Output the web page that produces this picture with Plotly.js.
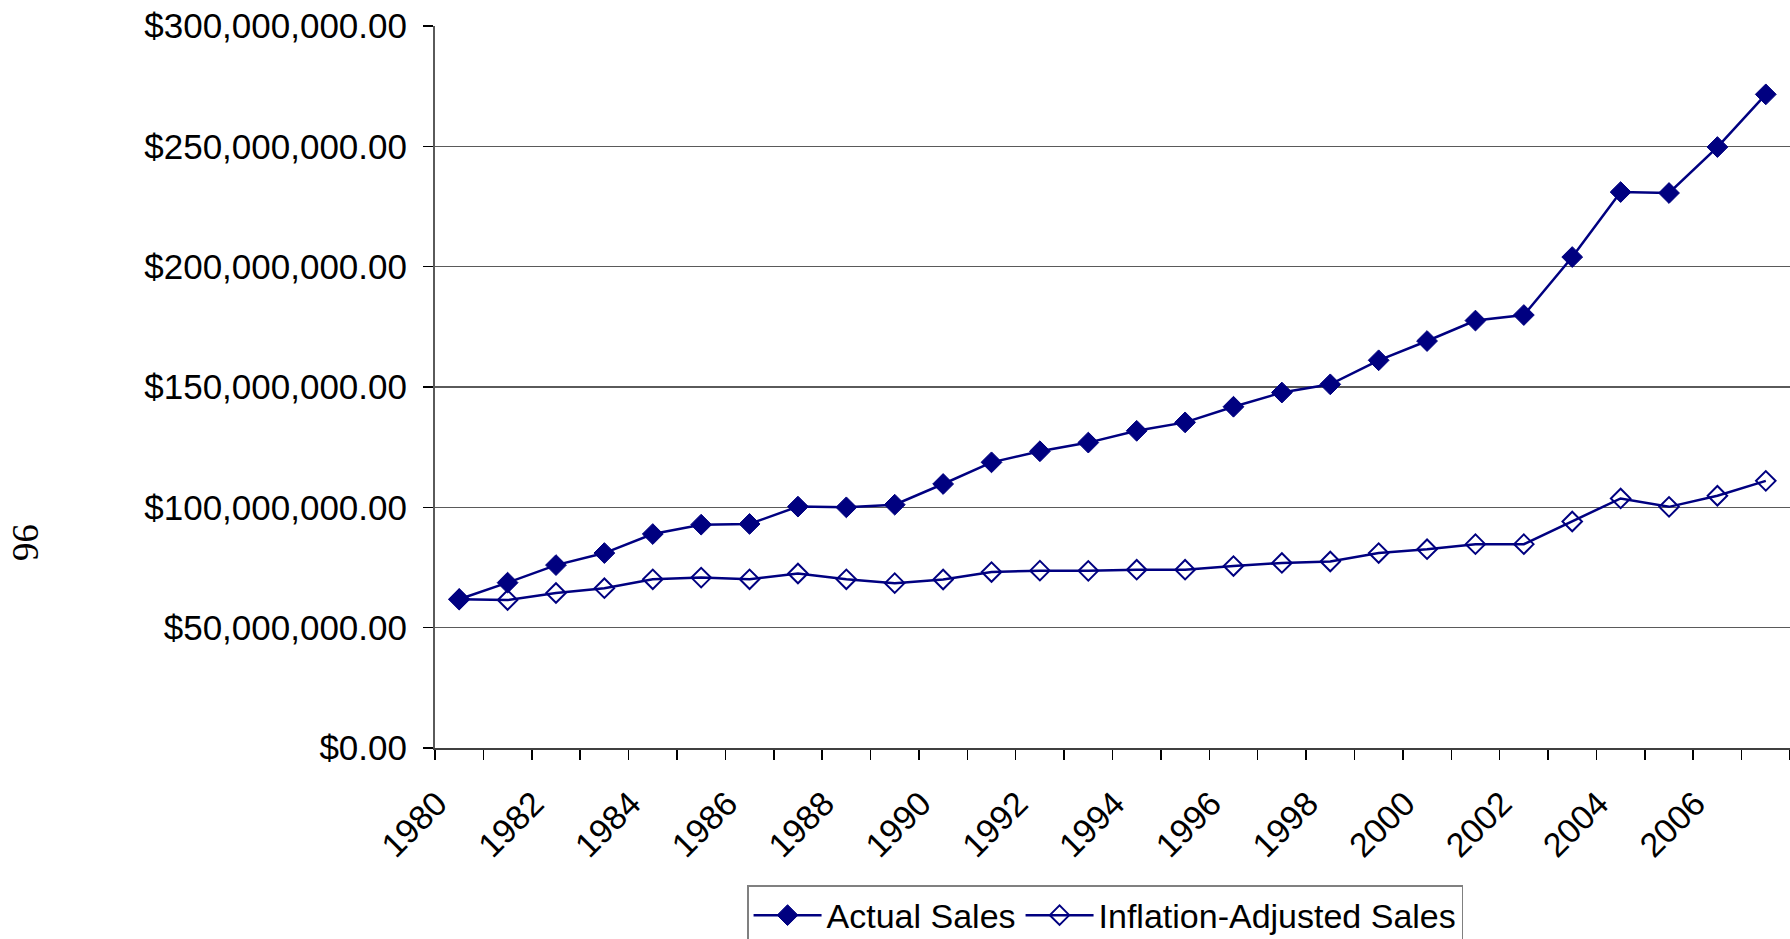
<!DOCTYPE html>
<html>
<head>
<meta charset="utf-8">
<script src="https://cdn.plot.ly/plotly-3.0.1.min.js"></script>
<style>
html,body{margin:0;padding:0;background:#fff;}
#chart{width:1790px;height:939px;}
</style>
</head>
<body>
<div id="chart"></div>
<script>
// Data
var years = [1980,1981,1982,1983,1984,1985,1986,1987,1988,1989,1990,1991,1992,1993,
             1994,1995,1996,1997,1998,1999,2000,2001,2002,2003,2004,2005,2006,2007];
var actualSales = [61.8e6,68.7e6,76.0e6,81.0e6,88.9e6,92.8e6,93.1e6,100.3e6,100.0e6,101.1e6,
                   109.7e6,118.7e6,123.3e6,126.9e6,131.8e6,135.3e6,141.8e6,147.7e6,151.1e6,161.1e6,
                   169.1e6,177.6e6,179.9e6,204.0e6,231.0e6,230.6e6,249.7e6,271.6e6];
var inflationAdjusted = [61.8e6,61.5e6,64.4e6,66.4e6,70.1e6,70.8e6,70.1e6,72.5e6,70.1e6,68.5e6,
                         70.0e6,73.1e6,73.7e6,73.6e6,74.1e6,74.1e6,75.6e6,76.9e6,77.5e6,81.0e6,
                         82.6e6,84.7e6,84.7e6,94.1e6,103.7e6,100.2e6,104.8e6,111.0e6];
var tickYears = [1980,1982,1984,1986,1988,1990,1992,1994,1996,1998,2000,2002,2004,2006];
var tickLabels = tickYears.map(String);
var seriesNames = ["Actual Sales", "Inflation-Adjusted Sales"];
var pageNumber = "96";

var boundaries = years.map(function(y){return y - 0.5;}).concat([years[years.length-1] + 0.5]);

var navy = "#000080";
var fontFam = "Liberation Sans, Arial, sans-serif";

var traces = [
  {
    x: years, y: actualSales, name: seriesNames[0], type: "scatter", mode: "lines+markers",
    line: {color: navy, width: 2.5},
    marker: {symbol: "diamond", size: 16, color: navy, line: {color: navy, width: 1}},
    cliponaxis: false
  },
  {
    x: years, y: inflationAdjusted, name: seriesNames[1], type: "scatter", mode: "lines+markers",
    line: {color: navy, width: 2.5},
    marker: {symbol: "diamond-open", size: 15, color: navy, line: {color: navy, width: 2}},
    cliponaxis: false
  }
];

var layout = {
  width: 1790, height: 939,
  margin: {l: 435, r: 0, t: 26, b: 191, pad: 0, autoexpand: false},
  paper_bgcolor: "#ffffff", plot_bgcolor: "#ffffff",
  font: {family: fontFam, size: 35, color: "#000"},
  showlegend: true,
  legend: {
    orientation: "h", x: 0.2303, xanchor: "left", y: -0.1898, yanchor: "top",
    bordercolor: "#808080", borderwidth: 1.5, bgcolor: "#fff",
    font: {family: fontFam, size: 34, color: "#000"},
    itemwidth: 68, traceorder: "normal"
  },
  xaxis: {
    type: "linear", range: [boundaries[0], boundaries[boundaries.length-1]],
    automargin: false,
    tickmode: "array", tickvals: tickYears, ticktext: tickLabels, tickangle: -45,
    ticks: "outside", ticklen: 4, tickcolor: "rgba(0,0,0,0)",
    ticklabelshift: -22, ticklabelstandoff: 16,
    showgrid: false, zeroline: false,
    showline: true, linecolor: "#404040", linewidth: 2,
    tickfont: {family: fontFam, size: 34, color: "#000"},
    minor: {tickmode: "array", tickvals: boundaries, ticks: "outside", ticklen: 10, tickwidth: 1.5, tickcolor: "#000", showgrid: false}
  },
  yaxis: {
    range: [0, 300e6], tickmode: "linear", tick0: 0, dtick: 50e6,
    automargin: false,
    tickformat: "$,.2f",
    ticks: "outside", ticklen: 10, tickwidth: 1.5, tickcolor: "#000",
    ticklabelstandoff: 9,
    showgrid: true, gridcolor: "#5a5a5a", gridwidth: 1.5,
    zeroline: false,
    showline: true, linecolor: "#5a5a5a", linewidth: 2,
    tickfont: {family: fontFam, size: 35, color: "#000"}
  },
  annotations: [
    {text: pageNumber, xref: "paper", yref: "paper", x: -0.3026, y: 0.284,
     xanchor: "center", yanchor: "middle", showarrow: false, textangle: 90,
     font: {family: "Liberation Serif, Times New Roman, serif", size: 37, color: "#000"}}
  ]
};

Plotly.newPlot("chart", traces, layout, {displayModeBar: false, staticPlot: true});
</script>
</body>
</html>
